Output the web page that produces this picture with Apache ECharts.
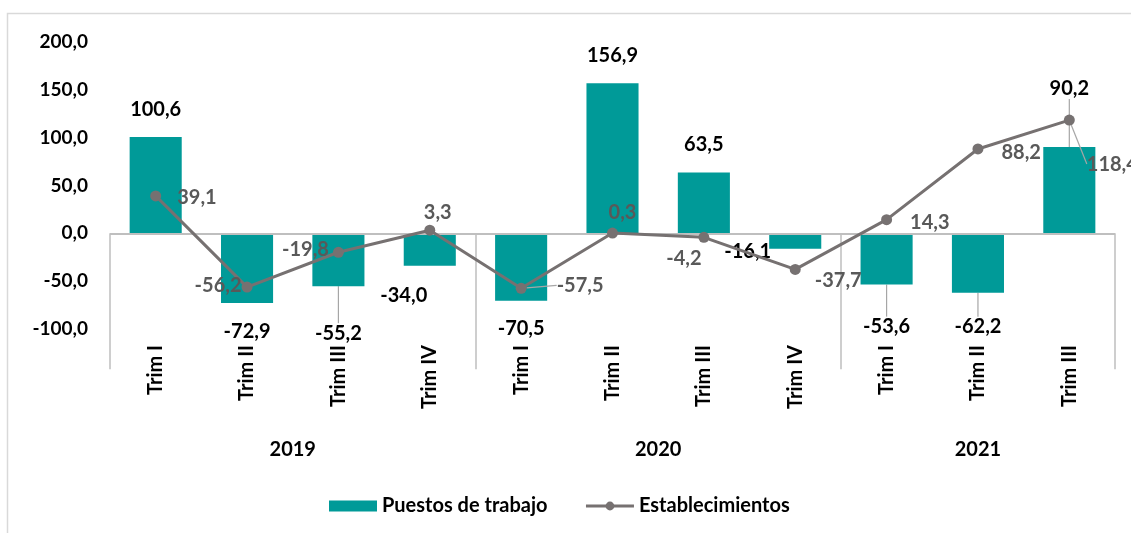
<!DOCTYPE html>
<html>
<head>
<meta charset="utf-8">
<script src="https://cdn.jsdelivr.net/npm/echarts@6/dist/echarts.min.js"></script>
<style>
  html, body { margin: 0; padding: 0; background: #fff; }
  #main { width: 1131px; height: 533px; }
</style>
</head>
<body>
<div id="main"></div>
<script>
// datos
var trimestres = ['Trim I', 'Trim II', 'Trim III', 'Trim IV', 'Trim I', 'Trim II', 'Trim III', 'Trim IV', 'Trim I', 'Trim II', 'Trim III'];
var anios = ['2019', '2020', '2021'];
var trimPorAnio = [4, 4, 3];
var puestos = [100.6, -72.9, -55.2, -34.0, -70.5, 156.9, 63.5, -16.1, -53.6, -62.2, 90.2];
var establecimientos = [39.1, -56.2, -19.8, 3.3, -57.5, 0.3, -4.2, -37.7, 14.3, 88.2, 118.4];

// posicion de etiquetas: [posicion, dx, dy, linea guia]
var etqPuestos = [
  ['top', 0, 0], ['bottom', 0, 0], ['bottom', 0, 19, 1], ['bottom', -26, 2],
  ['bottom', 0, 0], ['top', 0, 0], ['top', 0, 0], ['left', 20, 11],
  ['bottom', 0, 14, 1], ['bottom', 0, 6, 1], ['top', 0, -30, 1]
];
var etqEstab = [
  ['right', 10, 2], ['left', 6, -2], ['left', 2, -3], ['top', 8, 4],
  ['right', 24, -3, 1], ['top', 10, 1], ['bottom', -20, 0], ['right', 8, 11],
  ['right', 12, 3], ['right', 12, 4], ['right', 6, 44, 1]
];

function fmt(v) { return v.toFixed(1).replace('.', ','); }

// limites y centros de los grupos de anios
var limites = [0], centros = [], acc = 0;
trimPorAnio.forEach(function (n) {
  centros.push(acc + n / 2);
  acc += n;
  limites.push(acc);
});

function armar(valores, etq) {
  return valores.map(function (v, i) {
    return {
      value: v,
      label: { position: etq[i][0] },
      labelLine: { show: !!etq[i][3] }
    };
  });
}

var fuente = 'Lato';
var tam = 20;
var chart = echarts.init(document.getElementById('main'));
var option = {
  backgroundColor: '#fff',
  textStyle: { fontFamily: fuente },
  graphic: [{
    type: 'rect', silent: true,
    shape: { x: 7.5, y: 13.5, width: 1200, height: 600 },
    style: { fill: 'none', stroke: '#D9D9D9', lineWidth: 1.5 }
  }],
  legend: {
    left: 324, top: 491,
    itemWidth: 48, itemHeight: 11, itemGap: 37,
    textStyle: { fontFamily: fuente, fontWeight: 'bold', fontSize: tam, color: '#000' },
    data: [
      { name: 'Puestos de trabajo', icon: 'rect' },
      { name: 'Establecimientos', lineStyle: { width: 3, color: '#767171' } }
    ]
  },
  grid: { left: 110, right: 16, top: 42, bottom: 204 },
  xAxis: [{
    type: 'category',
    data: trimestres,
    position: 'bottom',
    axisLine: { onZero: false, show: false },
    axisTick: { show: false },
    axisLabel: { rotate: 90, margin: 16, fontFamily: fuente, fontWeight: 'bold', fontSize: tam, color: '#000' }
  }, {
    type: 'value',
    min: 0, max: trimestres.length,
    position: 'bottom',
    axisLine: { show: false },
    splitLine: { show: false },
    axisTick: { show: true, customValues: limites, length: 136, lineStyle: { color: '#BFBFBF', width: 1.5 } },
    axisLabel: {
      customValues: centros, margin: 111,
      fontFamily: fuente, fontWeight: 'bold', fontSize: tam, color: '#000',
      formatter: function (v) { return anios[centros.indexOf(v)]; }
    }
  }],
  yAxis: {
    type: 'value',
    min: -100, max: 200, interval: 50,
    axisLine: { show: false },
    axisTick: { show: false },
    splitLine: { show: false },
    axisLabel: { margin: 22, fontFamily: fuente, fontWeight: 'bold', fontSize: 19, color: '#000', formatter: fmt }
  },
  series: [{
    name: 'Puestos de trabajo',
    type: 'bar',
    xAxisIndex: 0,
    barCategoryGap: '43%',
    itemStyle: { color: '#009A98' },
    data: armar(puestos, etqPuestos),
    label: {
      show: true, distance: 18,
      fontFamily: fuente, fontWeight: 'bold', fontSize: tam, color: '#000',
      formatter: function (p) { return fmt(p.value); }
    },
    labelLayout: function (p) {
      return { dx: etqPuestos[p.dataIndex][1], dy: etqPuestos[p.dataIndex][2] };
    },
    labelLine: { lineStyle: { color: '#A6A6A6', width: 1.2 } },
    markLine: {
      silent: true, symbol: 'none',
      label: { show: false },
      lineStyle: { color: '#BFBFBF', width: 2, type: 'solid' },
      data: [{ yAxis: 0 }]
    }
  }, {
    name: 'Establecimientos',
    type: 'line',
    xAxisIndex: 0,
    z: 5,
    symbol: 'circle', symbolSize: 11,
    lineStyle: { color: '#767171', width: 3 },
    itemStyle: { color: '#767171' },
    data: armar(establecimientos, etqEstab),
    label: {
      show: true, distance: 6,
      fontFamily: fuente, fontWeight: 'bold', fontSize: tam, color: '#595959',
      formatter: function (p) { return fmt(p.value); }
    },
    labelLayout: function (p) {
      return { dx: etqEstab[p.dataIndex][1], dy: etqEstab[p.dataIndex][2] };
    },
    labelLine: { lineStyle: { color: '#A6A6A6', width: 1.2 } }
  }]
};
chart.setOption(option);
</script>
</body>
</html>
